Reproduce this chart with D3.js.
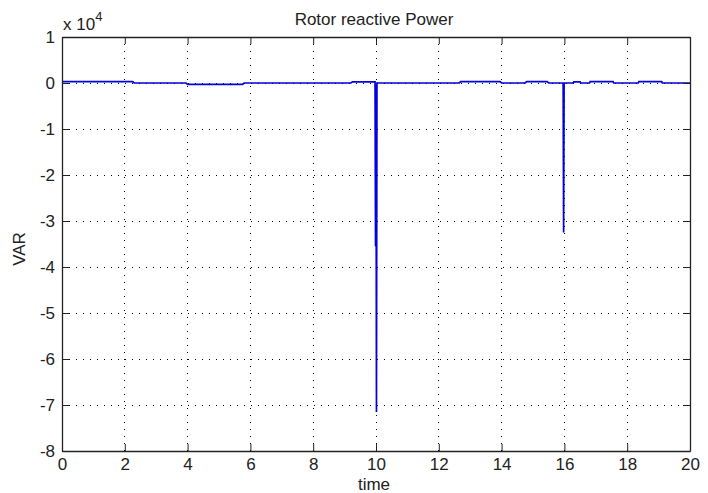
<!DOCTYPE html>
<html>
<head>
<meta charset="utf-8">
<script src="https://cdn.jsdelivr.net/npm/d3@7"></script>
<style>
  html, body { margin: 0; padding: 0; background: #fff; }
  svg { display: block; font-family: "Liberation Sans", Arial, sans-serif; }
</style>
</head>
<body>
<svg id="chart" width="708" height="493"></svg>
<script>
// ---- data ----
const timeValues  = [0, 2.25, 2.3, 3.95, 4.0, 5.75, 5.8, 9.2, 9.25, 9.97, 9.985, 10.0, 10.015, 10.03, 12.65, 12.7, 13.95, 14.0, 14.75, 14.8, 15.45, 15.5, 15.96, 15.975, 15.99, 16.28, 16.3, 16.5, 16.52, 16.8, 16.82, 17.55, 17.57, 18.35, 18.37, 19.1, 19.12, 20];
const powerValues = [300, 300, 0, 0, -300, -300, 0, 0, 250, 250, -35500, -500, -71500, 0, 0, 300, 300, 0, 0, 300, 300, 0, 0, -32500, 0, 0, 250, 250, 0, 0, 300, 300, 0, 0, 300, 300, 0, 0];
const xTicks = [0, 2, 4, 6, 8, 10, 12, 14, 16, 18, 20];
const yTicks = [10000, 0, -10000, -20000, -30000, -40000, -50000, -60000, -70000, -80000];
const titleText = "Rotor reactive Power";
const xLabel = "time";
const yLabel = "VAR";

// ---- layout ----
const svg = d3.select("#chart");
const L = 62, R = 690, T = 37, B = 451;
const x = d3.scaleLinear().domain([0, 20]).range([L, R]);
const y = d3.scaleLinear().domain([-80000, 10000]).range([B, T]);
const fs = 17;

// grid
const grid = svg.append("g");
grid.selectAll(".vg").data(xTicks.slice(1, -1)).enter().append("line")
  .attr("x1", d => x(d)).attr("x2", d => x(d)).attr("y1", T).attr("y2", B)
  .attr("stroke", "#000").attr("stroke-width", 1).attr("stroke-dasharray", "1,6")
  .attr("shape-rendering", "crispEdges");
grid.selectAll(".hg").data(yTicks.slice(1, -1)).enter().append("line")
  .attr("x1", L).attr("x2", R).attr("y1", d => y(d)).attr("y2", d => y(d))
  .attr("stroke", "#000").attr("stroke-width", 1).attr("stroke-dasharray", "1,6")
  .attr("shape-rendering", "crispEdges");

// data line
const pts = timeValues.map((t, i) => [t, powerValues[i]]);
svg.append("path").datum(pts)
  .attr("fill", "none").attr("stroke", "#0000e0").attr("stroke-width", 1.7)
  .attr("d", d3.line().x(d => x(d[0])).y(d => y(d[1])));

// axes (box with inward ticks on all sides)
const tickLen = 7;
const fmtY = d => String(Math.round(d / 10000));
const axB = svg.append("g").attr("transform", `translate(0,${B})`)
  .call(d3.axisBottom(x).tickValues(xTicks).tickSizeInner(-tickLen).tickSizeOuter(0).tickPadding(7).tickFormat(d => String(d)));
const axT = svg.append("g").attr("transform", `translate(0,${T})`)
  .call(d3.axisTop(x).tickValues(xTicks).tickSizeInner(-tickLen).tickSizeOuter(0).tickFormat(""));
const axL = svg.append("g").attr("transform", `translate(${L},0)`)
  .call(d3.axisLeft(y).tickValues(yTicks).tickSizeInner(-tickLen).tickSizeOuter(0).tickPadding(7).tickFormat(fmtY));
const axR = svg.append("g").attr("transform", `translate(${R},0)`)
  .call(d3.axisRight(y).tickValues(yTicks).tickSizeInner(-tickLen).tickSizeOuter(0).tickFormat(""));
[axB, axT, axL, axR].forEach(a => {
  a.selectAll("path.domain").attr("stroke", "#222").attr("stroke-width", 1.3);
  a.selectAll(".tick line").attr("stroke", "#222").attr("stroke-width", 1);
  a.selectAll("text").attr("font-size", fs).attr("fill", "#222").attr("font-family", "Liberation Sans, Arial, sans-serif");
});
axL.selectAll(".tick text").attr("x", -7);

// exponent label
const ex = svg.append("text").attr("x", 63).attr("y", 30).attr("font-size", fs).attr("fill", "#222");
ex.append("tspan").text("x 10");
ex.append("tspan").attr("dy", -9).attr("font-size", 13).text("4");

// title and axis labels
svg.append("text").attr("x", 374).attr("y", 25).attr("text-anchor", "middle")
  .attr("font-size", fs).attr("fill", "#222").text(titleText);
svg.append("text").attr("x", 374).attr("y", 490).attr("text-anchor", "middle")
  .attr("font-size", fs).attr("fill", "#222").text(xLabel);
svg.append("text").attr("transform", "translate(25,249) rotate(-90)").attr("text-anchor", "middle")
  .attr("font-size", fs).attr("fill", "#222").text(yLabel);
</script>
</body>
</html>
